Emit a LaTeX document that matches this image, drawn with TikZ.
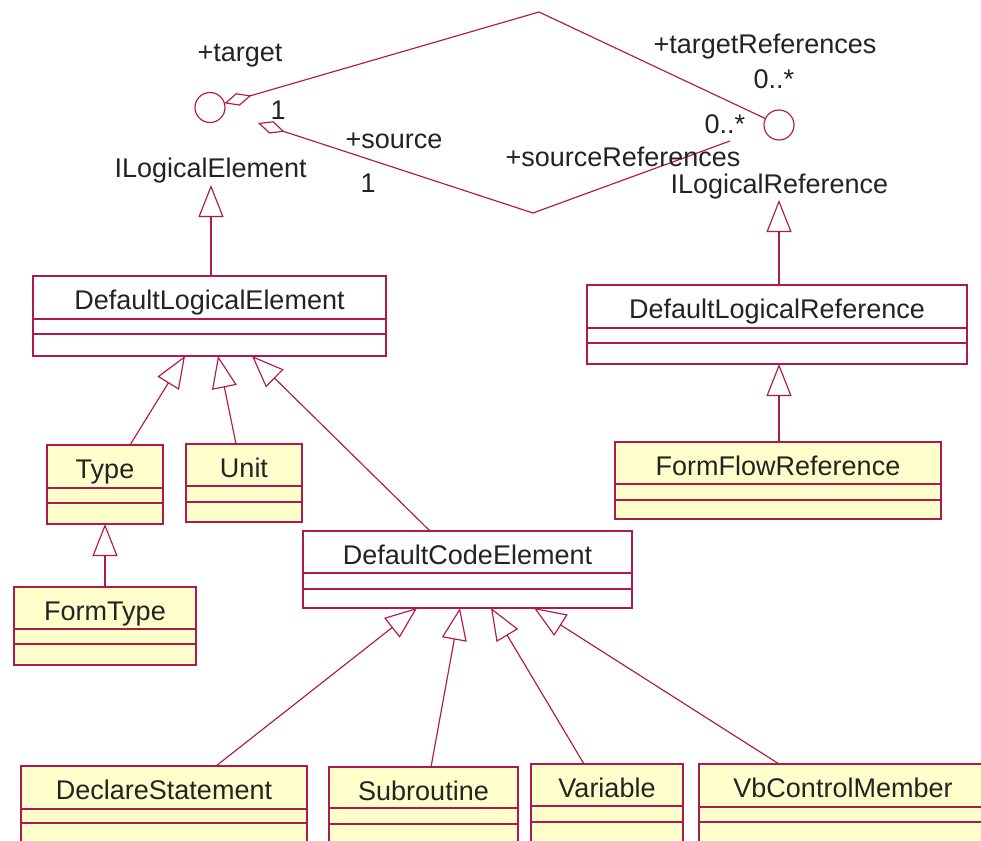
\documentclass[tikz,border=0pt]{standalone}
\usepackage{fontspec}
\setmainfont{Liberation Sans}
\usetikzlibrary{arrows.meta,calc}
\definecolor{umlred}{RGB}{175,25,75}
\definecolor{umlfill}{RGB}{255,255,204}
\definecolor{umltext}{RGB}{35,35,35}

% class box: name, fill style, x, y, width, height, 1st line, 2nd line, title
\newcommand{\umlclass}[9]{%
  \node[classbox,#2,minimum width=#5pt,minimum height=#6pt] (#1) at (#3,#4) {};
  \draw[compline] ([yshift=-#7pt]#1.north west) -- ([yshift=-#7pt]#1.north east);
  \draw[compline] ([yshift=-#8pt]#1.north west) -- ([yshift=-#8pt]#1.north east);
  \node[classname] (#1-title) at ([yshift=-33pt]#1.north) {#9};
}

\begin{document}
\begin{tikzpicture}[x=1pt,y=-1pt,line width=1.15pt,
  classbox/.style={draw=umlred,anchor=north west,inner sep=0pt,outer sep=0pt},
  plainbox/.style={fill=white},
  entitybox/.style={fill=umlfill},
  compline/.style={draw=umlred},
  txt/.style={inner sep=0pt,text=umltext,font=\fontsize{27}{32}\selectfont},
  classname/.style={txt,anchor=base},
  lbl/.style={txt,anchor=base west},
  gen/.style={draw=umlred,-{Triangle[open,length=32pt,width=25pt]}},
  assoc/.style={draw=umlred,{Diamond[open,length=28pt,width=13pt]}-},
  iface/.style={circle,draw=umlred,minimum size=30pt,inner sep=0pt,outer sep=0pt},
]
\useasboundingbox (0,0) rectangle (981,840);
\clip (0,0) rectangle (981,840);

% interfaces
\node[iface] (ile) at (210,107.5) {};
\node[iface] (ilr) at (779,125) {};
\node[lbl] (ile-name) at (114,177) {ILogicalElement};
\node[lbl] (ilr-name) at (670,193) {ILogicalReference};
\coordinate (ile-tip) at (211,185);
\coordinate (ilr-tip) at (779,200);

% classes
\umlclass{dle}{plainbox}{33}{276}{353}{80}{43}{58}{DefaultLogicalElement}
\umlclass{type}{entitybox}{47}{445}{116}{79}{43}{58}{Type}
\umlclass{unit}{entitybox}{186}{444}{116}{78}{42}{58}{Unit}
\umlclass{formtype}{entitybox}{14}{587}{182}{78}{42}{57}{FormType}
\umlclass{dce}{plainbox}{303}{531}{329}{77}{42}{58}{DefaultCodeElement}
\umlclass{dlr}{plainbox}{587}{285}{380}{79}{43}{58}{DefaultLogicalReference}
\umlclass{ffr}{entitybox}{615}{442}{326}{77}{42}{58}{FormFlowReference}
\umlclass{decl}{entitybox}{21}{766}{286}{100}{43}{57}{DeclareStatement}
\umlclass{sub}{entitybox}{329}{767}{189}{100}{41}{57}{Subroutine}
\umlclass{var}{entitybox}{531}{764}{152}{100}{42}{58}{Variable}
\umlclass{vbc}{entitybox}{699}{764}{288}{100}{43}{58}{VbControlMember}

% associations between the two interfaces
\coordinate (apexT) at (539,12);
\coordinate (apexS) at (533,213);
\coordinate (srcStart) at (258,123);
\coordinate (srcEnd) at (730,141);
\draw[assoc] (ile) -- (apexT) -- (ilr);
\draw[assoc] (srcStart) -- (apexS) -- (srcEnd);

\node[lbl] (l-target) at (197,62) {+target};
\node[lbl] (l-tm) at (270,119) {1};
\node[lbl] (l-source) at (345,148) {+source};
\node[lbl] (l-sm) at (360,192) {1};
\node[lbl] (l-tref) at (653,54) {+targetReferences};
\node[lbl] (l-trm) at (753,89) {0..*};
\node[lbl] (l-srm) at (704,133) {0..*};
\node[lbl] (l-sref) at (505,166) {+sourceReferences};

% realizations / generalizations
\draw[gen] ([xshift=178pt]dle.north west) -- (ile-tip);
\draw[gen] ([xshift=192pt]dlr.north west) -- (ilr-tip);
\draw[gen] ([xshift=83pt]type.north west) -- ([xshift=152pt]dle.south west);
\draw[gen] ([xshift=50pt]unit.north west) -- ([xshift=185pt]dle.south west);
\draw[gen] ([xshift=127pt]dce.north west) -- ([xshift=219pt]dle.south west);
\draw[gen] ([xshift=91pt]formtype.north west) -- ([xshift=58pt]type.south west);
\draw[gen] ([xshift=164pt]ffr.north west) -- ([xshift=192pt]dlr.south west);
\draw[gen] ([xshift=195pt]decl.north west) -- ([xshift=114pt]dce.south west);
\draw[gen] ([xshift=102pt]sub.north west) -- ([xshift=157pt]dce.south west);
\draw[gen] ([xshift=53pt]var.north west) -- ([xshift=188pt]dce.south west);
\draw[gen] ([xshift=80pt]vbc.north west) -- ([xshift=231pt]dce.south west);
\end{tikzpicture}
\end{document}
